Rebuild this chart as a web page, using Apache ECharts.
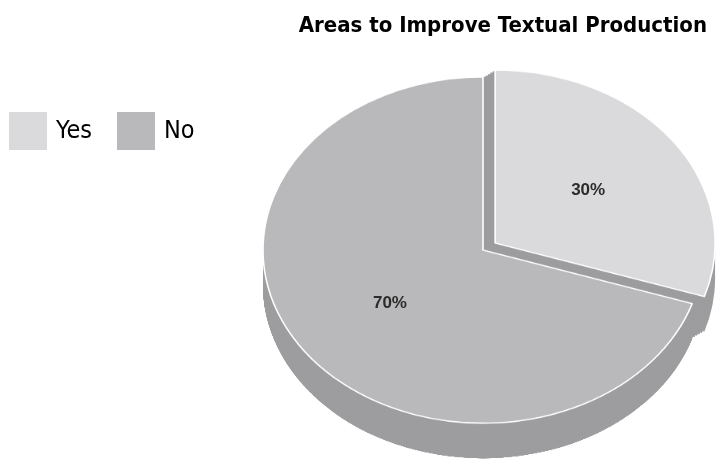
<!DOCTYPE html>
<html>
<head>
<meta charset="utf-8">
<script src="https://cdn.jsdelivr.net/npm/echarts@6/dist/echarts.min.js"></script>
<style>
  html, body { margin: 0; padding: 0; background: #ffffff; overflow: hidden; width: 716px; height: 460px; }
  #pie { position: absolute; left: 0; top: 0; width: 716px; height: 600px; transform: scaleY(0.787); transform-origin: 0 0; }
  #over { position: absolute; left: 0; top: 0; width: 716px; height: 460px; }
</style>
</head>
<body>
<div id="pie"></div>
<div id="over"></div>
<script>
// ---- data ----
const categories = ['Yes', 'No'];
const values = [30, 70];
const titleText = 'Areas to Improve Textual Production';

// ---- styling / layout ----
const topColors = ['#dadadc', '#b9b9bb'];
const sideColor = '#9d9d9f';
const TILT = 0.787;          // vertical squash of the pie disc
const CX = 483, CY = 250;    // screen centre of the top face
const R = 220;               // horizontal radius
const THICK = 35;            // screen thickness of the disc
const OFFSET = 15;           // explode distance of the first slice
const condensed = "'Liberation Sans Narrow', 'DejaVu Sans Condensed', 'Liberation Sans', sans-serif";

function pieData(colors) {
  return categories.map((c, i) => ({
    name: c,
    value: values[i],
    selected: i === 0,
    itemStyle: { color: colors[i] }
  }));
}

function baseSeries(centerY, offset, colors, border) {
  return {
    type: 'pie',
    radius: R,
    center: [CX, centerY],
    startAngle: 90,
    clockwise: true,
    selectedMode: 'single',
    selectedOffset: offset,
    silent: true,
    animation: false,
    label: { show: false },
    labelLine: { show: false },
    emphasis: { disabled: true },
    itemStyle: border ? { borderColor: '#ffffff', borderWidth: 1.6 } : { borderWidth: 0 },
    data: pieData(colors)
  };
}

// 3D body (squashed): side layers, each swept over the explode distance
const pieChart = echarts.init(document.getElementById('pie'), null, { renderer: 'canvas' });
const series = [];
const LAYERS = 6;
const SWEEP = 5;
for (let k = LAYERS; k >= 0; k--) {
  const off = (THICK * k / LAYERS) / TILT;
  for (let s = 0; s <= SWEEP; s++) {
    series.push(baseSeries(CY / TILT + off, OFFSET * s / SWEEP, [sideColor, sideColor], false));
  }
}
series.push(baseSeries(CY / TILT, OFFSET, topColors, true));
pieChart.setOption({ animation: false, series: series });

// Overlay: title, legend, labels
const total = values.reduce((a, b) => a + b, 0);
function midAngle(idx) {
  let acc = 0;
  for (let i = 0; i < idx; i++) acc += values[i];
  return (acc + values[idx] / 2) / total * 2 * Math.PI; // clockwise from 12 o'clock
}

const over = echarts.init(document.getElementById('over'), null, { renderer: 'canvas' });
over.setOption({
  animation: false,
  title: {
    text: titleText,
    right: 4,
    top: 10,
    textStyle: { fontFamily: condensed, fontWeight: 'bold', fontSize: 22, color: '#000000' }
  },
  legend: {
    left: 4,
    top: 107,
    orient: 'horizontal',
    icon: 'rect',
    itemWidth: 38,
    itemHeight: 38,
    itemGap: 25,
    selectedMode: false,
    textStyle: { fontFamily: condensed, fontSize: 25, color: '#000000', padding: [0, 0, 0, 4] },
    data: categories.map((c, i) => ({ name: c, itemStyle: { color: topColors[i], opacity: 1, borderWidth: 0 } }))
  },
  series: [{
    type: 'pie',
    radius: 224,
    center: [CX, CY],
    startAngle: 90,
    clockwise: true,
    selectedMode: false,
    silent: true,
    animation: false,
    itemStyle: { color: 'rgba(0,0,0,0)', borderWidth: 0 },
    emphasis: { disabled: true },
    label: {
      show: true,
      position: 'inside',
      formatter: '{c}%',
      fontFamily: "'Liberation Sans', Arial, sans-serif",
      fontWeight: 'bold',
      fontSize: 17,
      color: '#2b2b2b'
    },
    labelLine: { show: false },
    labelLayout: function (p) {
      const r = p.labelRect;
      let x = r.x + r.width / 2;
      let y = CY + (r.y + r.height / 2 - CY) * TILT;
      if (p.dataIndex === 0) {
        const a = midAngle(0);
        x += OFFSET * Math.sin(a);
        y -= OFFSET * Math.cos(a) * TILT;
      }
      return { x: x, y: y, align: 'center', verticalAlign: 'middle' };
    },
    data: categories.map((c, i) => ({ name: c, value: values[i], itemStyle: { color: 'rgba(0,0,0,0)' } }))
  }]
});
</script>
</body>
</html>
